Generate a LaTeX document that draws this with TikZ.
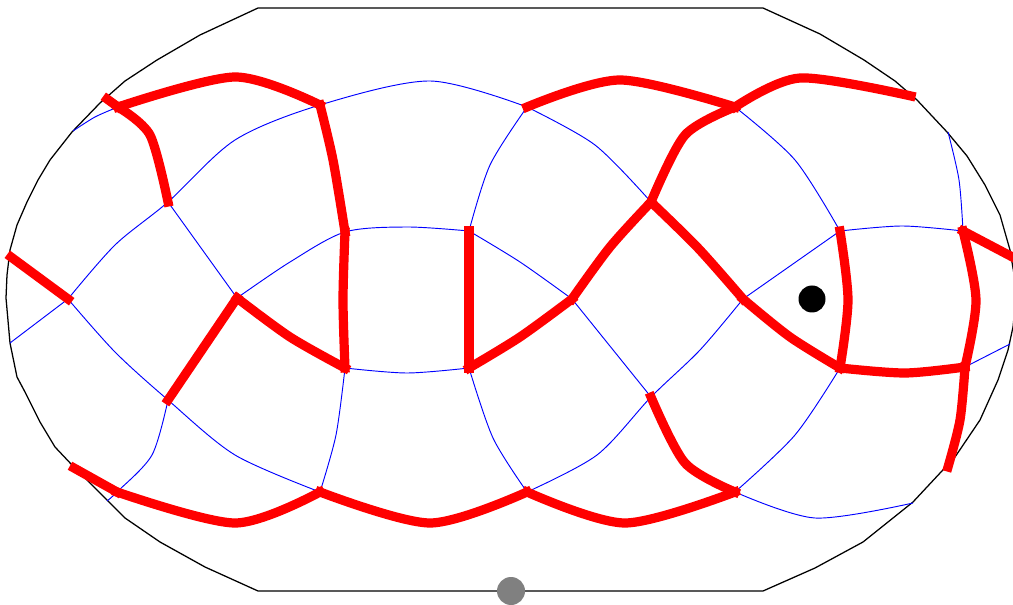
\documentclass[tikz,border=0pt]{standalone}
\usepackage{xcolor}
\usepackage{tikz}

\begin{document}
\begin{tikzpicture}[
  x=0.75pt, y=-0.75pt,
  outline/.style={draw=black, line width=0.95pt, line join=round},
  gridline/.style={draw=blue, line width=0.7pt},
  seam/.style={draw=red, line width=6.9pt, line cap=rect, line join=round}
]
\useasboundingbox (0,0) rectangle (1013,605);
% vertices
\coordinate (a) at (68,299);
\coordinate (b) at (168,202);
\coordinate (c) at (237,298);
\coordinate (d) at (168,400);
\coordinate (e) at (320,105);
\coordinate (f) at (345,232);
\coordinate (g) at (345,368);
\coordinate (h) at (469,231);
\coordinate (i) at (469,368);
\coordinate (j) at (572,299);
\coordinate (k) at (651,202);
\coordinate (l) at (651,397);
\coordinate (m) at (743,299);
\coordinate (n) at (840,231);
\coordinate (o) at (840,368);
\coordinate (p) at (963,231);
\coordinate (q) at (965,367);
\coordinate (r) at (735,107);
\coordinate (s) at (735,492);
\coordinate (t) at (527,107);
\coordinate (u) at (527,492);
\coordinate (v) at (320,492);
\coordinate (w) at (117,492);
\coordinate (x) at (118,107);

% boundary
\draw[outline] (6,298) -- (7,275) -- (10,250) -- (17,225) -- (27,202) -- (38,180) -- (50,160)
  -- (72,132) -- (100,103) -- (125,81) -- (157,60) -- (200,35) -- (258,8) -- (763,8)
  -- (820,34) -- (864,60) -- (895,81) -- (917,100) -- (947,132) -- (967,156) -- (985,185)
  -- (1000,215) -- (1010,250) -- (1015,280) -- (1016,298) -- (1013,327) -- (1008,350)
  -- (998,380) -- (980,420) -- (955,457) -- (913,502) -- (863,542) -- (815,568) -- (763,591)
  -- (258,591) -- (205,567) -- (160,542) -- (125,518) -- (90,483) -- (72,465) -- (55,447)
  -- (40,422) -- (25,392) -- (17,377) -- (10,343) -- cycle;

% grid
\draw[gridline] plot[smooth] coordinates {(73,131) (95,117) (x)};
\draw[gridline] plot[smooth] coordinates {(a) (115,245) (b) (235,140) (e) (430,81) (t)};
\draw[gridline] (b) -- (c);
\draw[gridline] plot[smooth] coordinates {(c) (290,262) (f) (407,227) (h)};
\draw[gridline] plot[smooth] coordinates {(h) (520,262) (j)};
\draw[gridline] plot[smooth] coordinates {(h) (490,165) (t)};
\draw[gridline] plot[smooth] coordinates {(t) (595,145) (k)};
\draw[gridline] plot[smooth] coordinates {(r) (795,160) (n)};
\draw[gridline] (m) -- (n);
\draw[gridline] plot[smooth] coordinates {(n) (902,226) (p)};
\draw[gridline] plot[smooth] coordinates {(948,132) (959,180) (p)};
\draw[gridline] (q) -- (1010,344);
\draw[gridline] plot[smooth] coordinates {(o) (795,435) (s)};
\draw[gridline] plot[smooth] coordinates {(s) (815,518) (913,503)};
\draw[gridline] plot[smooth] coordinates {(m) (700,350) (l) (597,455) (u)};
\draw[gridline] (j) -- (l);
\draw[gridline] plot[smooth] coordinates {(i) (493,438) (u)};
\draw[gridline] plot[smooth] coordinates {(g) (407,373) (i)};
\draw[gridline] plot[smooth] coordinates {(g) (336,435) (v)};
\draw[gridline] plot[smooth] coordinates {(a) (115,352) (d) (235,455) (v)};
\draw[gridline] plot[smooth] coordinates {(d) (152,455) (w) (107,501)};
\draw[gridline] (a) -- (10,343);

% seams
\draw[seam] (11,257) -- (a);
\draw[seam] (107,99) -- (x);
\draw[seam] plot[smooth] coordinates {(x) (150,135) (b)};
\draw[seam] plot[smooth] coordinates {(x) (235,77) (e)};
\draw[seam] plot[smooth] coordinates {(e) (333,160) (f)};
\draw[seam] plot[smooth] coordinates {(f) (343,300) (g)};
\draw[seam] plot[smooth] coordinates {(g) (290,337) (c)};
\draw[seam] (c) -- (d);
\draw[seam] (h) -- (i);
\draw[seam] plot[smooth] coordinates {(i) (520,337) (j)};
\draw[seam] plot[smooth] coordinates {(j) (610,247) (k)};
\draw[seam] plot[smooth] coordinates {(k) (685,135) (r)};
\draw[seam] plot[smooth] coordinates {(t) (620,80) (r)};
\draw[seam] plot[smooth] coordinates {(r) (800,78) (911,96)};
\draw[seam] plot[smooth] coordinates {(k) (698,248) (m)};
\draw[seam] plot[smooth] coordinates {(m) (790,337) (o)};
\draw[seam] plot[smooth] coordinates {(o) (848,300) (n)};
\draw[seam] plot[smooth] coordinates {(o) (905,373) (q)};
\draw[seam] plot[smooth] coordinates {(p) (976,300) (q)};
\draw[seam] plot[smooth] coordinates {(q) (960,420) (948,467)};
\draw[seam] (p) -- (1020,261);
\draw[seam] plot[smooth] coordinates {(l) (685,463) (s)};
\draw[seam] plot[smooth] coordinates {(s) (625,523) (u)};
\draw[seam] plot[smooth] coordinates {(u) (430,523) (v)};
\draw[seam] plot[smooth] coordinates {(v) (235,523) (w)};
\draw[seam] (74,468) -- (w);

% dots
\fill[black] (812,299) circle[radius=13.5];
\fill[gray] (511,591) circle[radius=14];
\end{tikzpicture}
\end{document}
